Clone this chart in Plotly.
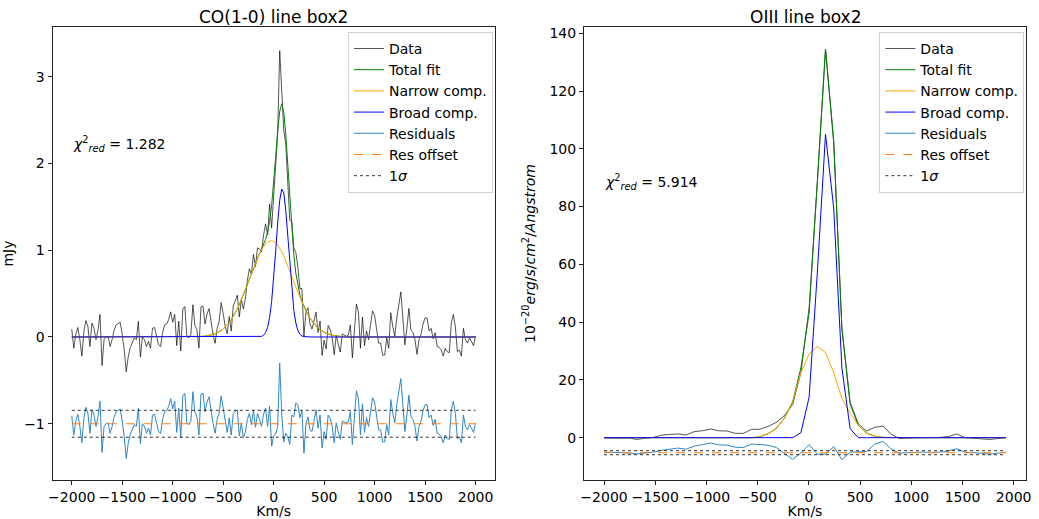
import numpy as np
import plotly.graph_objects as go

# ---------------- CO(1-0) panel ----------------
co_vel = np.arange(-2000, 2001, 20)  # km/s grid

# residuals (data - total fit), mJy
co_resid = [
    0.09, -0.13, 0.03, 0.11, -0.03, -0.22, 0.06, 0.19, 0.12, -0.11,
    0.16, 0.10, -0.03, 0.08, 0.26, -0.33, -0.03, 0.00, 0.01, -0.11,
    -0.03, 0.08, 0.14, 0.16, 0.17, 0.03, -0.15, -0.40, -0.22, -0.12,
    -0.06, -0.01, -0.03, 0.18, -0.23, 0.00, -0.03, -0.11, -0.05, -0.13,
    0.10, 0.11, 0.01, -0.09, -0.11, 0.05, 0.14, 0.15, 0.20, 0.29,
    0.17, 0.26, -0.10, 0.18, -0.16, 0.32, 0.35, 0.01, -0.01, 0.03,
    0.37, 0.13, 0.08, -0.13, 0.34, 0.35, 0.14, 0.25, 0.31, 0.15,
    0.00, -0.11, 0.05, 0.12, 0.32, 0.18, 0.01, -0.10, 0.07, -0.13,
    0.12, 0.14, 0.16, -0.14, 0.01, -0.16, -0.10, 0.05, 0.12, -0.01,
    0.16, -0.04, 0.12, 0.05, -0.03, 0.11, 0.18, -0.03, 0.20, -0.26,
    -0.14, -0.12, -0.03, 0.70, 0.12, -0.21, -0.11, -0.15, -0.24, 0.10,
    0.08, 0.24, 0.22, 0.07, 0.15, -0.34, -0.01, 0.08, -0.07, -0.09,
    0.03, 0.16, -0.05, 0.10, -0.28, -0.09, -0.18, 0.10, 0.06, -0.03,
    -0.22, 0.01, -0.09, -0.18, 0.03, 0.02, 0.01, 0.02, 0.14, -0.24,
    0.12, 0.38, 0.29, -0.13, 0.23, -0.10, 0.07, -0.03, 0.14, 0.30,
    0.25, 0.08, -0.07, -0.07, -0.21, -0.21, -0.01, -0.13, 0.28, 0.12,
    0.01, 0.22, 0.35, 0.52, 0.22, -0.09, 0.10, 0.33, 0.08, 0.05,
    -0.03, -0.20, -0.03, 0.03, 0.15, 0.22, 0.22, 0.07, 0.10, -0.02,
    0.05, -0.11, -0.12, -0.15, -0.22, -0.13, -0.17, -0.18, 0.16, 0.26,
    0.12, -0.17, -0.15, -0.22, 0.10, -0.03, -0.07, -0.01, -0.05, -0.10,
    0.01,
]

# narrow component, tabulated from -800 to 700 km/s
co_narrow_start = -800
co_narrow_vals = [
    0.0015, 0.0021, 0.0029, 0.0040, 0.0054, 0.0073, 0.0098, 0.013, 0.017, 0.022,
    0.029, 0.037, 0.047, 0.060, 0.075, 0.092, 0.113, 0.138, 0.166, 0.199,
    0.236, 0.277, 0.322, 0.372, 0.425, 0.482, 0.542, 0.604, 0.667, 0.730,
    0.792, 0.852, 0.908, 0.959, 1.005, 1.043, 1.074, 1.095, 1.107, 1.110,
    1.102, 1.086, 1.059, 1.025, 0.983, 0.934, 0.880, 0.822, 0.761, 0.699,
    0.635, 0.573, 0.512, 0.453, 0.398, 0.347, 0.299, 0.256, 0.217, 0.182,
    0.152, 0.125, 0.102, 0.083, 0.067, 0.053, 0.042, 0.033, 0.026, 0.020,
    0.015, 0.011, 0.0085, 0.0063, 0.0046, 0.0034,
]

# broad component, tabulated from -160 to 320 km/s
co_broad_start = -160
co_broad_vals = [
    0.0007, 0.0024, 0.0072, 0.020, 0.050, 0.111, 0.224, 0.408, 0.668, 0.987,
    1.314, 1.576, 1.705, 1.661, 1.458, 1.154, 0.823, 0.529, 0.306, 0.160,
    0.075, 0.032, 0.012, 0.0042, 0.0013,
]

co_offset = -1.0
co_sigma = 0.155
co_chi2 = "1.282"

# ---------------- OIII panel ----------------
o3_vel = np.linspace(-2000, 1925, 50)

o3_data = [
    -0.1, -0.2, -0.2, -0.1, -0.6, -0.2, 0.1, 0.9, 1.2, 1.3,
    0.9, 2.1, 2.4, 3.0, 2.4, 2.3, 1.5, 1.5, 2.9, 2.9,
    3.9, 5.3, 7.7, 11.5, 22.5, 45.0, 88.0, 134.5, 103.0, 38.0,
    12.3, 4.8, 2.3, 3.6, 4.0, 1.2, -0.3, -0.1, 0.0, 0.0,
    0.0, 0.1, 0.4, 1.3, 0.0, -0.1, -0.4, -0.6, -0.3, 0.0,
]
o3_narrow = [
    0, 0, 0, 0, 0, 0, 0, 0, 0, 0,
    0, 0, 0, 0, 0, 0, 0, 0, 0, 0.3,
    1.4, 3.2, 6.8, 12.5, 22.5, 29.0, 31.6, 29.5, 22.5, 13.5,
    8.5, 4.2, 1.6, 0.5, 0.1, 0, 0, 0, 0, 0,
    0, 0, 0, 0, 0, 0, 0, 0, 0, 0,
]
o3_broad = [
    0, 0, 0, 0, 0, 0, 0, 0, 0, 0,
    0, 0, 0, 0, 0, 0, 0, 0, 0, 0,
    0, 0, 0, 0, 1.7, 14.0, 57.0, 105.0, 79.5, 24.0,
    3.1, 0, 0, 0, 0, 0, 0, 0, 0, 0,
    0, 0, 0, 0, 0, 0, 0, 0, 0, 0,
]
o3_resid_shifted = [
    -4.95, -5.0, -5.1, -5.3, -5.6, -5.3, -5.0, -4.4, -3.9, -3.6,
    -4.0, -2.9, -2.4, -1.85, -2.5, -2.6, -3.3, -3.4, -2.2, -2.4,
    -2.6, -3.4, -5.5, -7.5, -5.3, -2.4, -5.7, -5.7, -3.1, -7.6,
    -5.0, -4.9, -4.8, -2.2, -1.3, -3.9, -5.4, -5.2, -5.0, -5.0,
    -5.1, -5.0, -4.6, -3.8, -5.0, -5.1, -5.4, -5.7, -5.4, -5.0,
]
o3_offset = -5.2
o3_sigma = 0.7
o3_chi2 = "5.914"

# ---------------- derived series ----------------
def place(start, vals, grid):
    full = np.zeros(len(grid))
    i0 = int(round((start - grid[0]) / (grid[1] - grid[0])))
    full[i0:i0 + len(vals)] = vals
    return full

co_narrow = place(co_narrow_start, co_narrow_vals, co_vel)
co_broad = place(co_broad_start, co_broad_vals, co_vel)
co_total = co_narrow + co_broad
co_data = co_total + np.array(co_resid)
co_res_plot = np.array(co_resid) + co_offset

o3_total = np.array(o3_narrow) + np.array(o3_broad)

# ---------------- figure ----------------
W, H = 1039, 519
FONT = "DejaVu Sans"

C_DATA = "rgba(0,0,0,0.75)"
C_TOTAL = "green"
C_NARROW = "orange"
C_BROAD = "blue"
C_RES = "#2f86c4"
C_OFF = "#ff7f0e"
C_SIG = "rgba(0,0,0,0.8)"

fig = go.Figure()


def add_panel(xa, ya, leg, vel, data, total, narrow, broad, res, offset, sigma):
    common = dict(xaxis=xa, yaxis=ya, legend=leg, mode="lines", hoverinfo="skip")
    xr = [vel[0], vel[-1]]
    fig.add_trace(go.Scatter(x=vel, y=data, name="Data", legendgroup=leg + "a",
                             line=dict(color=C_DATA, width=0.9), **common))
    fig.add_trace(go.Scatter(x=vel, y=total, name="Total fit", legendgroup=leg + "b",
                             line=dict(color=C_TOTAL, width=1), **common))
    fig.add_trace(go.Scatter(x=vel, y=narrow, name="Narrow comp.", legendgroup=leg + "c",
                             line=dict(color=C_NARROW, width=1), **common))
    fig.add_trace(go.Scatter(x=vel, y=broad, name="Broad comp.", legendgroup=leg + "d",
                             line=dict(color=C_BROAD, width=1), **common))
    fig.add_trace(go.Scatter(x=vel, y=res, name="Residuals", legendgroup=leg + "e",
                             line=dict(color=C_RES, width=1), **common))
    fig.add_trace(go.Scatter(x=xr, y=[offset, offset], name="Res offset", legendgroup=leg + "f",
                             line=dict(color=C_OFF, width=1, dash="dash"), **common))
    fig.add_trace(go.Scatter(x=xr, y=[offset + sigma] * 2, name="1<i>σ</i>", legendgroup=leg + "g",
                             line=dict(color=C_SIG, width=1, dash="dot"), **common))
    fig.add_trace(go.Scatter(x=xr, y=[offset - sigma] * 2, name="1<i>σ</i>", legendgroup=leg + "g",
                             showlegend=False, line=dict(color=C_SIG, width=1, dash="dot"), **common))


add_panel("x", "y", "legend", co_vel, co_data, co_total, co_narrow, co_broad,
          co_res_plot, co_offset, co_sigma)
add_panel("x2", "y2", "legend2", o3_vel, o3_data, o3_total, o3_narrow, o3_broad,
          o3_resid_shifted, o3_offset, o3_sigma)

px = lambda p: p / W
py = lambda p: 1 - p / H

axis_style = dict(showline=True, mirror=True, linecolor="#222", linewidth=1,
                  ticks="outside", ticklen=4, tickcolor="#222", showgrid=False,
                  zeroline=False, tickfont=dict(size=14, color="black"),
                  title_font=dict(size=14, color="black"))

legend_style = dict(bgcolor="rgba(255,255,255,0.85)", bordercolor="#d0d0d0", borderwidth=1,
                    font=dict(size=14, color="black", family=FONT), xanchor="left",
                    yanchor="top", tracegroupgap=0, traceorder="grouped", itemwidth=30)

fig.update_layout(
    width=W, height=H, margin=dict(l=0, r=0, t=0, b=0),
    paper_bgcolor="white", plot_bgcolor="white",
    font=dict(family=FONT, color="black"),
    xaxis=dict(domain=[px(49), px(495)], range=[-2190, 2190], dtick=500,
               title=dict(text="Km/s", standoff=0), anchor="y", **axis_style),
    yaxis=dict(domain=[py(480), py(25)], range=[-1.65, 3.574], dtick=1,
               title=dict(text="mJy", standoff=10), anchor="x", **axis_style),
    xaxis2=dict(domain=[px(585), px(1031)], range=[-2196, 2121], dtick=500,
                title=dict(text="Km/s", standoff=0), anchor="y2", **axis_style),
    yaxis2=dict(domain=[py(480), py(25)], range=[-14.7, 142.2], dtick=20,
                title=dict(text="10<sup>−20</sup><i>erg</i>/<i>s</i>/<i>cm</i><sup>2</sup>/<i>Angstrom</i>",
                           standoff=10), anchor="x2", **axis_style),
    legend=dict(x=px(347), y=py(30), **legend_style),
    legend2=dict(x=px(883), y=py(30), **legend_style),
    showlegend=True,
)

fig.add_annotation(text="CO(1-0) line box2", x=(px(49) + px(495)) / 2, y=py(15),
                   xref="paper", yref="paper", showarrow=False,
                   font=dict(size=17, color="black"), xanchor="center", yanchor="middle")
fig.add_annotation(text="OIII line box2", x=(px(585) + px(1031)) / 2, y=py(15),
                   xref="paper", yref="paper", showarrow=False,
                   font=dict(size=17, color="black"), xanchor="center", yanchor="middle")

chi_fmt = "<i>χ</i><sup>2</sup><sub><i>red</i></sub> = {}"
fig.add_annotation(text=chi_fmt.format(co_chi2), x=px(68), y=py(143), xref="paper", yref="paper",
                   showarrow=False, xanchor="left", yanchor="middle", font=dict(size=14))
fig.add_annotation(text=chi_fmt.format(o3_chi2), x=px(604), y=py(181), xref="paper", yref="paper",
                   showarrow=False, xanchor="left", yanchor="middle", font=dict(size=14))

fig.write_html("out.html")
